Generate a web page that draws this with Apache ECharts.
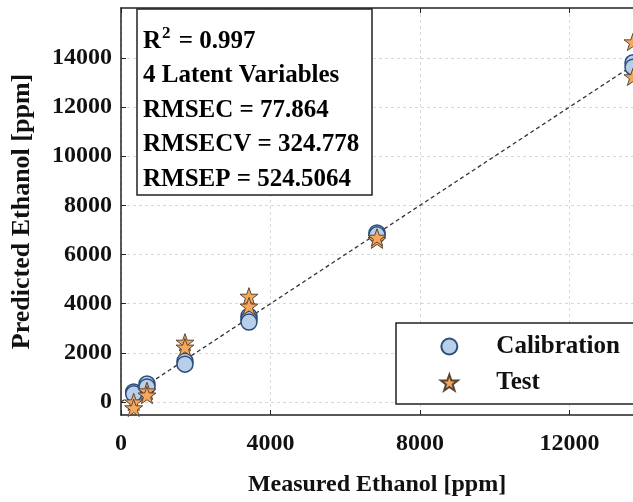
<!DOCTYPE html>
<html><head><meta charset="utf-8">
<script src="https://cdn.jsdelivr.net/npm/echarts@6/dist/echarts.min.js"></script>
<style>html,body{margin:0;padding:0;background:#fff}#c{width:633px;height:502px}</style>
</head><body><div id="c"></div>
<script>
const xTicks = [0, 4000, 8000, 12000];
const yTicks = [0, 2000, 4000, 6000, 8000, 10000, 12000, 14000];
const calibration = [[340,406],[340,330],[695,730],[695,610],[1712,1660],[1712,1540],[3424,3490],[3424,3370],[3424,3250],[6850,6880],[6850,6800],[13700,13800],[13700,13620]];
const test = [[340,0],[340,-240],[695,450],[695,280],[1712,2430],[1712,2230],[3424,4300],[3424,3900],[6850,6600],[6850,6700],[13700,14650],[13700,13230]];
const fitLine = [[0,0],[13700,13700]];
const statLines = ['4 Latent Variables', 'RMSEC = 77.864', 'RMSECV = 324.778', 'RMSEP = 524.5064'];
const r2Text = '0.997';

const FONT = '"Liberation Serif", "Times New Roman", serif';
const star = 'path://M50 0 L62 35 L98 35 L69 57 L80 92 L50 71 L20 92 L31 57 L2 35 L38 35 Z';

const chart = echarts.init(document.getElementById('c'));
const textLines = [
  {type:'text', z:101, style:{x:143, y:42, verticalAlign:'middle', text:'{b|R}{s|2}{b| = ' + r2Text + '}', rich:{b:{font:'bold 25px ' + FONT, fill:'#000'}, s:{font:'bold 17px ' + FONT, fill:'#000', verticalAlign:'top', padding:[0,2,16,1]}}}}
];
statLines.forEach((t, i) => {
  textLines.push({type:'text', z:101, style:{x:143, y:76 + i*34.5, verticalAlign:'middle', text:t, font:'bold 25px ' + FONT, fill:'#000'}});
});
const plain = v => String(v);

chart.setOption({
  animation:false,
  grid:{left:121, right:0, top:8, bottom:86, containLabel:false},
  xAxis:[{
    type:'value', min:0, max:13700, position:'bottom',
    name:'Measured Ethanol [ppm]', nameLocation:'middle', nameGap:58,
    nameTextStyle:{fontFamily:FONT, fontWeight:'bold', fontSize:24, color:'#111'},
    axisLine:{onZero:false, lineStyle:{color:'#222', width:1.5}},
    axisTick:{inside:true, length:5, customValues:xTicks, lineStyle:{color:'#222'}},
    axisLabel:{customValues:xTicks, formatter:plain, margin:17, fontFamily:FONT, fontWeight:'bold', fontSize:24, color:'#111'},
    splitLine:{show:true, lineStyle:{color:'#d8d8d8', type:[3,3], width:1}}
  },{
    type:'value', min:0, max:13700, position:'top',
    axisLine:{onZero:false, lineStyle:{color:'#222', width:1.5}},
    axisTick:{inside:true, length:5, customValues:xTicks, lineStyle:{color:'#222'}},
    axisLabel:{show:false}, splitLine:{show:false}
  }],
  yAxis:{
    type:'value', min:-530, max:16030,
    name:'Predicted Ethanol [ppm]', nameLocation:'middle', nameGap:86,
    nameTextStyle:{fontFamily:FONT, fontWeight:'bold', fontSize:26, color:'#111'},
    axisLine:{show:true, onZero:false, lineStyle:{color:'#222', width:1.5}},
    axisTick:{show:true, inside:true, length:5, customValues:yTicks, lineStyle:{color:'#222'}},
    axisLabel:{customValues:yTicks, formatter:plain, margin:9, fontFamily:FONT, fontWeight:'bold', fontSize:24, color:'#111'},
    splitLine:{show:true, lineStyle:{color:'#d8d8d8', type:[3,3], width:1}}
  },
  legend:{
    orient:'vertical', left:396, top:323,
    backgroundColor:'#fff', borderColor:'#222', borderWidth:1.5, borderRadius:0,
    padding:[11,14,9,44], itemGap:11, itemWidth:20, itemHeight:16,
    textStyle:{fontFamily:FONT, fontWeight:'bold', fontSize:25, color:'#111', lineHeight:24, padding:[0,0,0,32]},
    data:[{name:'Calibration', icon:'circle'}, {name:'Test', icon:star}]
  },
  graphic:[
    {type:'rect', z:100, shape:{x:137, y:9, width:235, height:186}, style:{fill:'#fff', stroke:'#222', lineWidth:1.5}},
    ...textLines
  ],
  series:[
    {type:'line', data:fitLine, symbol:'none', lineStyle:{color:'#333', type:[4,3], width:1.3}, z:1, silent:true},
    {name:'Calibration', type:'scatter', data:calibration, symbol:'circle', symbolSize:16,
     itemStyle:{color:'#b8cfea', borderColor:'#2e4c7c', borderWidth:1.5, opacity:1}, z:2},
    {name:'Test', type:'scatter', data:test, symbol:star, symbolSize:18, symbolKeepAspect:true,
     itemStyle:{color:'#f7a75c', borderColor:'#5b4634', borderWidth:1, opacity:1}, z:3}
  ]
});
</script></body></html>
